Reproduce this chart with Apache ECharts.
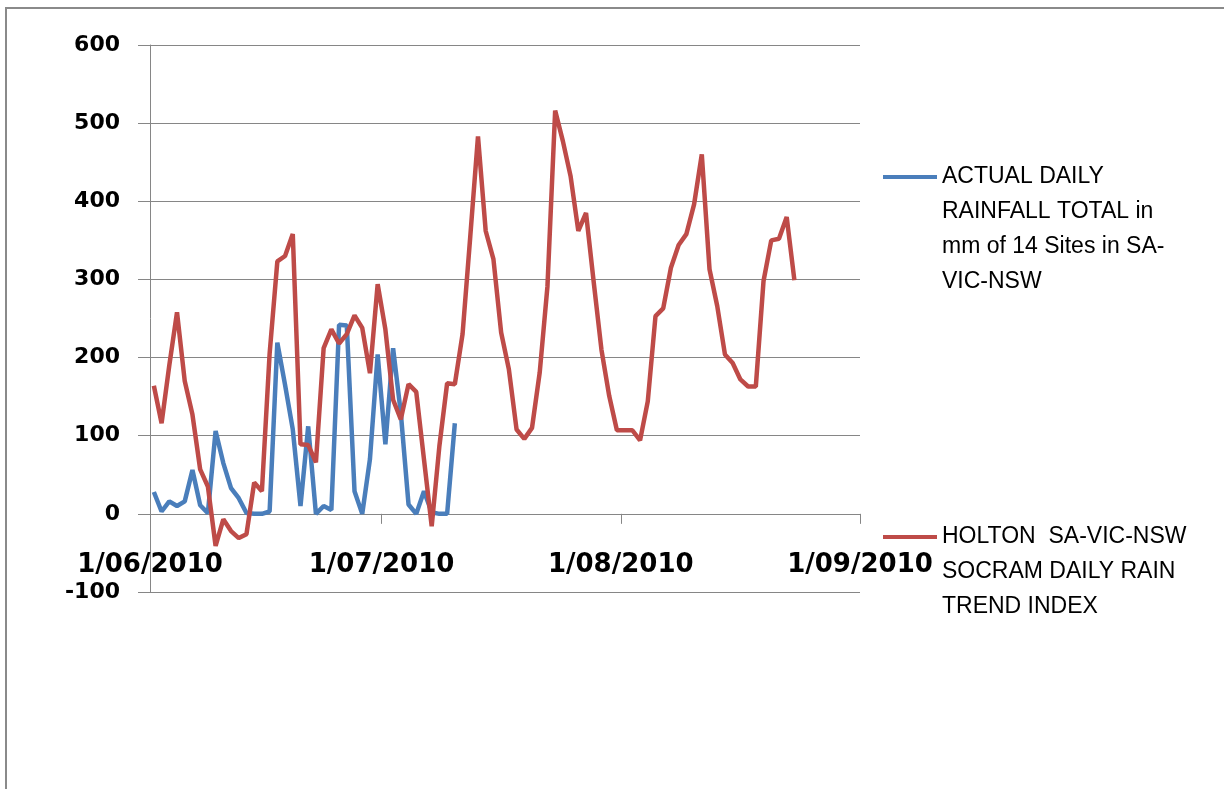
<!DOCTYPE html>
<html>
<head>
<meta charset="utf-8">
<script src="https://cdn.jsdelivr.net/npm/echarts@6/dist/echarts.min.js"></script>
<style>
html,body{margin:0;padding:0;background:#fff;}
#chart{width:1224px;height:789px;}
</style>
</head>
<body>
<div id="chart"></div>
<script>
// Dates (one point per day)
const dates = [
 '2010-06-01','2010-06-02','2010-06-03','2010-06-04','2010-06-05','2010-06-06','2010-06-07','2010-06-08','2010-06-09','2010-06-10',
 '2010-06-11','2010-06-12','2010-06-13','2010-06-14','2010-06-15','2010-06-16','2010-06-17','2010-06-18','2010-06-19','2010-06-20',
 '2010-06-21','2010-06-22','2010-06-23','2010-06-24','2010-06-25','2010-06-26','2010-06-27','2010-06-28','2010-06-29','2010-06-30',
 '2010-07-01','2010-07-02','2010-07-03','2010-07-04','2010-07-05','2010-07-06','2010-07-07','2010-07-08','2010-07-09','2010-07-10',
 '2010-07-11','2010-07-12','2010-07-13','2010-07-14','2010-07-15','2010-07-16','2010-07-17','2010-07-18','2010-07-19','2010-07-20',
 '2010-07-21','2010-07-22','2010-07-23','2010-07-24','2010-07-25','2010-07-26','2010-07-27','2010-07-28','2010-07-29','2010-07-30',
 '2010-07-31','2010-08-01','2010-08-02','2010-08-03','2010-08-04','2010-08-05','2010-08-06','2010-08-07','2010-08-08','2010-08-09',
 '2010-08-10','2010-08-11','2010-08-12','2010-08-13','2010-08-14','2010-08-15','2010-08-16','2010-08-17','2010-08-18','2010-08-19',
 '2010-08-20','2010-08-21','2010-08-22','2010-08-23'
];

// ACTUAL DAILY RAINFALL TOTAL (Jun 1 - Jul 10)
const actualRain = [
 28, 3, 16, 10, 16, 56, 11, 1, 106, 65,
 33, 20, 1, 0, 0, 3, 219, 165, 108, 10,
 112, 0, 10, 5, 242, 241, 29, 0, 70, 204,
 89, 212, 129, 12, 0, 29, 2, 0, 0, 116
];

// HOLTON SOCRAM DAILY RAIN TREND INDEX (Jun 1 - Aug 23)
const trendIndex = [
 164, 116, 190, 258, 170, 127, 57, 35, -41, -7,
 -22, -31, -26, 40, 29, 205, 323, 330, 358, 89,
 88, 66, 212, 236, 218, 230, 254, 238, 180, 294,
 236, 146, 121, 166, 156, 70, -16, 87, 167, 166,
 230, 355, 483, 362, 326, 232, 185, 108, 96, 110,
 181, 291, 516, 477, 432, 362, 385, 296, 210, 151,
 107, 107, 107, 94, 144, 253, 263, 315, 344, 358,
 396, 460, 313, 266, 204, 193, 172, 163, 163, 298,
 350, 352, 380, 299
];

const seriesNames = [
 'ACTUAL DAILY RAINFALL TOTAL in mm of 14 Sites in SA-VIC-NSW',
 'HOLTON  SA-VIC-NSW SOCRAM DAILY RAIN TREND INDEX'
];
const legendLines = [
 ['ACTUAL DAILY', 'RAINFALL TOTAL in', 'mm of 14 Sites in SA-', 'VIC-NSW'],
 ['HOLTON  SA-VIC-NSW', 'SOCRAM DAILY RAIN', 'TREND INDEX']
];

const tickDates = ['2010-06-01', '2010-07-01', '2010-08-01', '2010-09-01'];
const tickLabels = ['1/06/2010', '1/07/2010', '1/08/2010', '1/09/2010'];

function ts(d) {
  const p = d.split('-').map(Number);
  return Date.UTC(p[0], p[1] - 1, p[2]);
}
const HALF_DAY = 12 * 3600 * 1000;
function pairs(vals) {
  return vals.map((v, i) => [ts(dates[i]) + HALF_DAY, v]);
}
const tickMap = {};
tickDates.forEach((d, i) => { tickMap[ts(d)] = tickLabels[i]; });

const chart = echarts.init(document.getElementById('chart'), null, {renderer: 'canvas'});
const gray = '#868686';
const LH = 35;
const GRID_TOP = 45, GRID_H = 547;
const Y_MIN = -100, Y_MAX = 600;
// place the x axis on the zero line of the value axis
const zeroOffset = -GRID_H * (0 - Y_MIN) / (Y_MAX - Y_MIN);

function legendFor(idx, iconCenterY) {
  const lines = legendLines[idx];
  const n = lines.length;
  // leading blank lines push the first text line level with the icon
  const blanks = new Array(n - 1).fill('');
  const blockH = (2 * n - 1) * LH;
  return {
    data: [seriesNames[idx]],
    orient: 'vertical',
    left: 883,
    top: iconCenterY - blockH / 2,
    padding: 0,
    icon: 'rect',
    itemWidth: 54,
    itemHeight: 4,
    selectedMode: false,
    formatter: function () { return blanks.concat(lines).join('\n'); },
    textStyle: {
      fontFamily: 'Liberation Sans',
      fontSize: 23,
      color: '#000',
      lineHeight: LH
    }
  };
}

chart.setOption({
  animation: false,
  backgroundColor: '#fff',
  textStyle: {fontFamily: 'DejaVu Sans'},
  graphic: [{
    type: 'rect',
    shape: {x: 6, y: 8, width: 1300, height: 900},
    style: {fill: 'none', stroke: '#8a8a8a', lineWidth: 2},
    silent: true
  }],
  legend: [
    legendFor(0, 177),
    legendFor(1, 537)
  ],
  grid: {left: 150, top: GRID_TOP, width: 710, height: GRID_H, containLabel: false},
  xAxis: {
    type: 'time',
    position: 'bottom',
    offset: zeroOffset,
    min: ts(tickDates[0]),
    max: ts(tickDates[tickDates.length - 1]),
    minInterval: 28 * 24 * 3600 * 1000,
    maxInterval: 31 * 24 * 3600 * 1000,
    axisLine: {show: true, onZero: false, lineStyle: {color: gray, width: 1}},
    axisTick: {show: true, inside: false, length: 10, lineStyle: {color: gray}},
    minorTick: {show: false},
    splitLine: {show: false},
    axisLabel: {
      show: true,
      margin: 38,
      fontFamily: 'DejaVu Sans',
      fontWeight: 'bold',
      fontSize: 26,
      color: '#000',
      showMinLabel: true,
      showMaxLabel: true,
      hideOverlap: false,
      formatter: function (v) {
        const key = Math.round(v);
        return tickMap[key] !== undefined ? tickMap[key] : '';
      }
    }
  },
  yAxis: {
    type: 'value',
    min: Y_MIN,
    max: Y_MAX,
    interval: 100,
    axisLine: {show: true, lineStyle: {color: gray, width: 1}},
    axisTick: {show: true, inside: false, length: 12, lineStyle: {color: gray}},
    splitLine: {show: true, lineStyle: {color: gray, width: 1}},
    axisLabel: {
      margin: 30,
      fontFamily: 'DejaVu Sans',
      fontWeight: 'bold',
      fontSize: 22,
      color: '#000',
      padding: [6, 0, 0, 0]
    }
  },
  series: [
    {
      name: seriesNames[0],
      type: 'line',
      data: pairs(actualRain),
      symbol: 'none',
      lineStyle: {color: '#4A7EBB', width: 4.5},
      itemStyle: {color: '#4A7EBB'},
      z: 3
    },
    {
      name: seriesNames[1],
      type: 'line',
      data: pairs(trendIndex),
      symbol: 'none',
      lineStyle: {color: '#BE4B48', width: 4.5},
      itemStyle: {color: '#BE4B48'},
      z: 4
    }
  ]
});
</script>
</body>
</html>
